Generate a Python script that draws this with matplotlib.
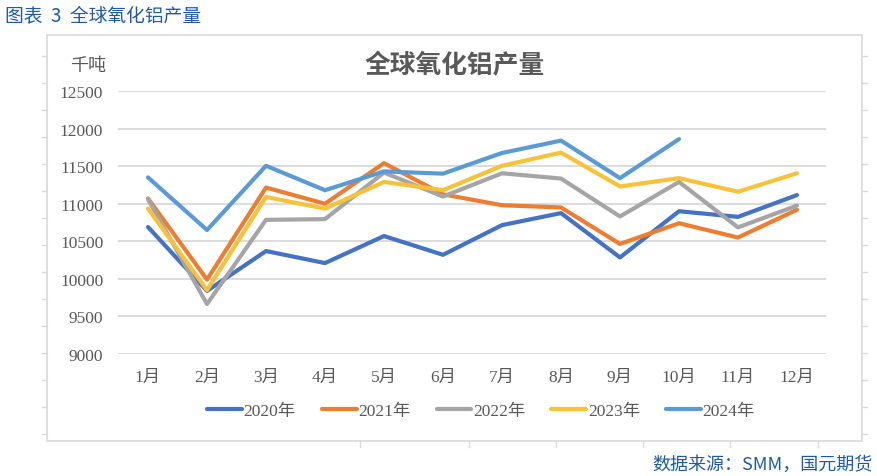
import matplotlib.pyplot as plt
from matplotlib.lines import Line2D
from matplotlib.patches import Rectangle

# 数据（千吨）
months = ["1月", "2月", "3月", "4月", "5月", "6月", "7月", "8月", "9月", "10月", "11月", "12月"]
y2020 = [10690, 9840, 10370, 10210, 10570, 10320, 10715, 10875, 10285, 10900, 10825, 11115]
y2021 = [11070, 9990, 11215, 11000, 11540, 11125, 10980, 10950, 10465, 10740, 10550, 10920]
y2022 = [11060, 9665, 10785, 10795, 11415, 11095, 11405, 11335, 10830, 11290, 10685, 10975]
y2023 = [10935, 9850, 11090, 10935, 11290, 11180, 11505, 11680, 11230, 11340, 11160, 11405]
y2024 = [11350, 10650, 11505, 11180, 11430, 11400, 11675, 11840, 11340, 11860]

series = [("2020年", y2020, "#4472C4"), ("2021年", y2021, "#ED7D31"),
          ("2022年", y2022, "#A5A5A5"), ("2023年", y2023, "#F7C13A"),
          ("2024年", y2024, "#5B9BD5")]
yticks = [9000, 9500, 10000, 10500, 11000, 11500, 12000, 12500]

W, H = 878, 477
serif = ["Liberation Serif", "Noto Sans CJK SC"]
grey = "#595959"
blue_txt = "#1F5AA6"

def fx(x):
    return x / W

def fy(y):
    return 1 - y / H

fig = plt.figure(figsize=(W / 100, H / 100), dpi=100)

# 外框和边上的小刻度
fig.patches.append(Rectangle((fx(47), fy(442)), fx(862) - fx(47), fy(36) - fy(442),
                             transform=fig.transFigure, fill=False, edgecolor="#D9D9D9", lw=1.2))
for k in range(15):
    yy = fy(57 + 27 * k)
    fig.lines.append(Line2D([fx(42), fx(47)], [yy, yy], transform=fig.transFigure, color="#D9D9D9", lw=1))
    fig.lines.append(Line2D([fx(862), fx(867)], [yy, yy], transform=fig.transFigure, color="#D9D9D9", lw=1))
for xx in [360, 469, 556, 643, 730, 818]:
    fig.lines.append(Line2D([fx(xx), fx(xx)], [fy(442), fy(448)], transform=fig.transFigure, color="#D9D9D9", lw=1))

ax = fig.add_axes([fx(118.5), fy(355), fx(826.5) - fx(118.5), fy(92) - fy(355)])
x = list(range(len(months)))
for name, vals, col in series:
    ax.plot(x[:len(vals)], vals, color=col, lw=3.0, label=name, solid_capstyle="round")

ax.set_xlim(-0.5, 11.5)
ax.set_ylim(9000, 12500)
ax.set_yticks(yticks)
ax.set_yticklabels([str(v) for v in yticks], family=serif, fontsize=12.5, color=grey)
ax.set_xticks(x)
ax.set_xticklabels(months, family=serif, fontsize=12.5, color=grey)
ax.tick_params(length=0)
ax.tick_params(axis="y", pad=11)
ax.tick_params(axis="x", pad=11)
ax.grid(axis="y", color="#D9D9D9", lw=1.3)
ax.set_axisbelow(True)
for s in ax.spines.values():
    s.set_visible(False)

fig.text(fx(88), fy(66), "千吨", family=serif, fontsize=13, color=grey, ha="center", va="center")
fig.text(fx(455), fy(66), "全球氧化铝产量", family=["Noto Sans CJK SC"], fontsize=18.5,
         fontweight="bold", color=grey, ha="center", va="center")

fig.legend(loc="center", bbox_to_anchor=(fx(481), fy(412)), ncol=5, frameon=False,
           prop={"family": serif, "size": 12.5}, labelcolor=grey,
           handlelength=2.0, handletextpad=0.1, columnspacing=1.5)

fig.text(fx(5), fy(16), "图表  3  全球氧化铝产量", family=["Noto Sans CJK SC"], fontsize=13.5,
         color=blue_txt, ha="left", va="center")
fig.text(fx(873), fy(465), "数据来源：SMM，国元期货", family=["Noto Sans CJK SC"], fontsize=13,
         color=blue_txt, ha="right", va="center")

fig.savefig("out.png", dpi=100)
